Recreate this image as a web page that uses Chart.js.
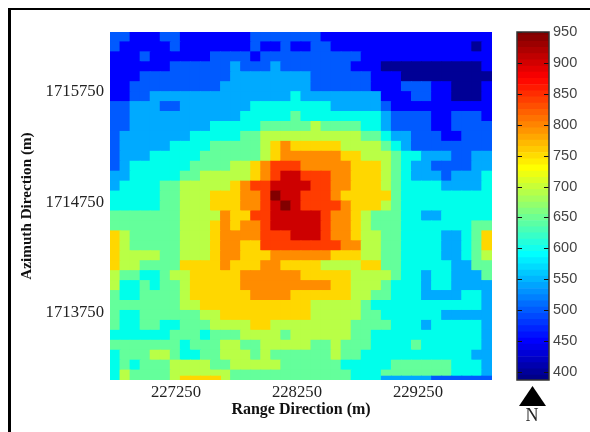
<!DOCTYPE html>
<html>
<head>
<meta charset="utf-8">
<title>Elevation map</title>
<script src="https://cdn.jsdelivr.net/npm/chart.js@4/dist/chart.umd.min.js"></script>
<style>
  html, body { margin: 0; padding: 0; background: #fff; overflow: hidden; }
  #page { position: relative; width: 590px; height: 432px; overflow: hidden; }
  #frame { position: absolute; left: 8px; top: 8px; width: 590px; height: 440px; border-left: 3px solid #000; border-top: 2px solid #000; }
  canvas { position: absolute; top: 0; }
  #map { left: 0; }
  #bar { left: 500px; }
  #arrow { position: absolute; left: 519px; top: 386px; width: 27px; height: 20px; background: #000; clip-path: polygon(50% 0, 100% 100%, 0 100%); }
  #north { position: absolute; left: 516px; top: 405px; width: 32px; text-align: center; font: 18px "Liberation Serif", serif; color: #222; }
</style>
</head>
<body>
<div id="page">
  <div id="frame"></div>
  <canvas id="map" width="590" height="432"></canvas>
  <canvas id="bar" width="90" height="400"></canvas>
  <div id="arrow"></div>
  <div id="north">N</div>
</div>
<script>
/* global Chart */

const xTicks = [227250, 228250, 229250];
const yTicks = [1713750, 1714750, 1715750];
const colorbarTicks = [400, 450, 500, 550, 600, 650, 700, 750, 800, 850, 900, 950];
const colorbarBreaks = [387, 395, 405, 415, 425, 435, 445, 455, 465, 475, 485, 495, 505, 515, 525, 535, 545, 555, 565, 575, 585, 595, 605, 615, 625, 635, 645, 655, 665, 675, 685, 695, 705, 715, 725, 735, 745, 755, 765, 775, 785, 795, 805, 815, 825, 835, 845, 855, 865, 875, 885, 895, 905, 915, 925, 935, 945, 950];

// contour level -> fill colour, as seen in the map
const contourLevels = [400, 450, 500, 550, 600, 650, 700, 750, 800, 850, 900, 950];
const contourColors = ['#000096', '#0000ff', '#005aff', '#00aaff', '#00ffeb', '#64ff9b', '#b9ff46', '#ffd700', '#ff8c00', '#ff3c00', '#cd0000', '#820000'];

// grid of the map, north to south, west to east
const row01 = [500,500,450,450,450,500,500,450,450,450,450,450,450,450,500,500,500,500,500,500,500,450,450,450,450,450,450,450,450,450,450,450,450,450,450,450,450,450];
const row02 = [500,450,450,450,450,450,500,450,450,450,450,450,450,450,500,450,450,500,450,450,500,500,450,450,450,450,450,450,450,450,450,450,450,450,450,450,400,450];
const row03 = [450,450,450,500,450,450,450,450,450,450,500,500,500,500,450,500,500,500,500,500,500,500,500,500,500,450,450,450,450,450,450,450,450,450,450,450,450,450];
const row04 = [450,450,450,450,450,450,500,500,500,500,500,500,550,500,500,500,550,500,500,500,500,500,500,500,450,450,450,400,400,400,400,400,400,400,400,400,400,450];
const row05 = [450,450,450,500,500,500,500,500,500,500,500,500,550,550,550,550,550,550,550,550,500,500,500,500,500,500,450,450,450,400,400,400,400,400,400,400,400,400];
const row06 = [450,450,500,500,500,500,500,500,500,500,500,550,550,550,550,550,550,550,550,550,500,500,500,500,500,500,450,450,450,500,500,500,450,450,400,400,400,450];
const row07 = [450,450,500,500,550,550,550,550,550,550,550,550,550,550,550,550,550,550,600,550,550,550,550,550,550,550,550,450,450,450,500,500,450,450,400,400,400,450];
const row08 = [500,500,550,550,550,500,500,550,550,550,550,550,550,550,600,600,600,600,600,600,600,600,550,550,550,550,550,500,450,450,450,450,450,450,450,450,450,450];
const row09 = [500,500,550,550,550,550,550,550,550,550,550,550,550,600,600,600,600,600,650,600,600,600,600,600,600,600,600,550,500,500,500,500,450,450,500,500,500,450];
const row10 = [500,500,550,550,550,550,550,550,550,550,600,600,600,600,600,650,650,650,650,650,700,650,650,650,650,600,600,550,500,500,500,500,450,450,500,500,500,500];
const row11 = [500,550,550,550,550,550,550,550,600,600,600,600,600,650,650,700,700,700,700,700,700,700,700,700,700,650,650,600,550,550,500,500,500,450,450,500,500,500];
const row12 = [500,550,550,550,550,550,600,600,600,600,650,650,650,650,650,700,750,800,750,750,750,750,750,700,700,700,700,650,600,550,500,500,500,500,500,500,500,500];
const row13 = [500,550,550,550,600,600,600,600,600,650,650,650,650,650,650,700,750,800,800,800,800,800,800,750,750,700,700,700,650,600,600,550,550,550,500,500,550,550];
const row14 = [500,550,600,600,600,600,600,600,650,650,650,650,700,700,750,800,850,850,850,800,800,800,800,800,750,750,750,700,650,600,550,550,500,500,500,500,550,550];
const row15 = [550,550,600,600,600,600,600,650,650,700,700,700,700,700,750,800,850,900,900,850,850,850,800,800,750,750,750,700,650,600,550,550,550,500,550,550,550,600];
const row16 = [550,600,600,600,600,650,650,700,700,700,700,700,750,800,850,850,900,900,900,900,850,850,800,800,750,750,750,700,650,600,600,600,600,550,550,550,550,600];
const row17 = [600,600,600,600,600,650,650,700,700,700,750,750,750,800,800,850,950,900,900,850,850,850,800,750,750,750,750,750,650,600,600,600,600,600,600,600,600,600];
const row18 = [600,600,600,600,600,650,650,700,700,700,750,750,750,800,800,850,900,950,900,850,850,850,850,800,750,750,750,700,650,600,600,600,600,600,600,600,600,600];
const row19 = [650,650,650,650,650,650,650,700,700,700,700,800,750,750,850,850,900,900,900,900,900,850,800,800,750,700,650,650,650,600,600,550,550,600,600,600,600,600];
const row20 = [650,650,650,650,650,650,650,700,700,700,750,800,750,800,800,850,900,900,900,900,900,850,800,800,750,700,650,650,650,600,600,600,600,600,600,600,650,650];
const row21 = [750,700,650,650,650,650,650,700,700,700,750,800,800,800,800,850,850,850,900,900,900,850,800,800,750,700,700,650,650,600,600,600,600,550,550,600,650,750];
const row22 = [750,700,650,650,650,650,650,700,700,700,750,800,800,750,750,850,850,850,850,850,850,850,850,800,800,700,700,650,650,600,600,600,600,550,550,600,650,750];
const row23 = [750,700,700,700,700,650,650,700,700,700,750,800,800,750,750,750,800,800,800,800,800,800,750,750,750,700,700,650,650,600,600,600,600,550,550,600,650,700];
const row24 = [750,700,700,650,650,650,650,750,750,750,750,800,750,750,750,800,800,750,750,750,750,700,700,700,700,750,750,650,650,600,600,600,600,600,550,550,650,650];
const row25 = [700,650,650,600,600,650,700,700,750,750,750,750,750,800,800,800,800,800,800,750,750,750,750,750,700,700,700,700,650,600,600,550,600,600,550,550,550,650];
const row26 = [700,600,600,650,600,650,650,700,750,750,750,750,750,800,800,800,800,800,800,800,800,800,750,750,700,700,700,650,600,600,600,550,600,600,550,550,550,550];
const row27 = [650,600,600,650,650,650,650,700,750,750,750,750,750,750,800,800,800,800,750,750,750,750,750,750,700,700,650,650,600,600,600,550,550,550,550,600,600,550];
const row28 = [650,650,650,650,650,650,650,700,700,750,750,750,750,750,750,750,750,750,750,750,700,700,700,700,700,650,600,600,600,600,600,600,600,600,600,600,600,550];
const row29 = [650,600,600,650,650,650,650,650,650,700,700,750,750,750,750,750,750,750,750,750,700,700,700,700,700,650,650,600,600,600,600,600,600,550,550,550,550,550];
const row30 = [650,600,600,650,650,600,600,650,650,650,700,700,700,700,750,750,700,700,700,700,700,700,700,700,650,650,650,650,600,600,600,550,600,600,600,600,600,550];
const row31 = [600,600,600,600,600,600,650,650,650,600,650,650,650,700,700,700,700,650,700,700,700,700,700,700,650,650,600,600,600,600,600,600,600,600,600,600,600,550];
const row32 = [650,650,650,650,650,650,650,600,650,650,650,700,700,650,650,700,700,700,700,700,650,650,700,650,650,650,600,600,600,600,650,600,600,600,600,600,600,550];
const row33 = [600,650,650,650,700,700,650,600,600,650,650,700,700,700,650,700,650,650,650,650,650,650,700,650,650,600,600,600,600,600,600,600,600,600,600,600,550,550];
const row34 = [600,650,600,650,650,650,700,700,700,700,650,650,700,700,700,700,700,650,650,650,650,650,650,600,600,600,600,600,650,650,650,650,650,650,600,600,600,550];
const row35 = [600,700,650,650,650,650,700,700,700,700,700,700,650,650,650,650,650,650,650,650,650,650,650,650,600,600,600,650,650,650,650,650,650,650,600,600,600,550];
// thin strip along the south edge, null where it does not show
const southEdge = [null,null,null,null,null,null,null,750,750,750,750,null,null,null,null,null,null,null,null,null,null,null,null,null,null,null,null,550,550,550,550,550,500,500,500,500,500,500];

const rows = [row01, row02, row03, row04, row05, row06, row07, row08, row09, row10, row11, row12, row13, row14, row15, row16, row17, row18, row19, row20, row21, row22, row23, row24, row25, row26, row27, row28, row29, row30, row31, row32, row33, row34, row35];

const xRange = [226705, 229862];
const yRange = [1713141, 1716290];
const eastFirst = 226746.5;
const eastStep = 83.06;
const northFirst = 1716245;
const northStep = 90;
const southEdgeNorth = 1713130;

const serifTick = { family: '"Liberation Serif", serif', size: 16.7 };

function levelColor(v) {
  return contourColors[contourLevels.indexOf(v)];
}

function jet(v) {
  const stops = [
    [387, 0, 0, 128], [450, 0, 0, 255], [590, 0, 255, 255],
    [730, 255, 255, 0], [875, 255, 0, 0], [950, 120, 0, 0]
  ];
  for (let i = 1; i < stops.length; i++) {
    if (v <= stops[i][0]) {
      const a = stops[i - 1];
      const b = stops[i];
      const t = (v - a[0]) / (b[0] - a[0]);
      const c = [1, 2, 3].map((k) => Math.round(a[k] + (b[k] - a[k]) * t));
      return `rgb(${c.join(',')})`;
    }
  }
  return 'rgb(120,0,0)';
}

function buildCells() {
  const cells = [];
  rows.forEach((row, r) => {
    row.forEach((v, c) => {
      cells.push({ x: eastFirst + c * eastStep, y: northFirst - r * northStep, v });
    });
  });
  southEdge.forEach((v, c) => {
    if (v !== null) cells.push({ x: eastFirst + c * eastStep, y: southEdgeNorth, v });
  });
  return cells;
}

const cells = buildCells();

new Chart(document.getElementById('map'), {
  type: 'scatter',
  data: {
    datasets: [
      {
        data: cells,
        pointStyle: 'rect',
        pointRadius: 7.8,
        pointHoverRadius: 7.8,
        pointBorderWidth: 0,
        pointBackgroundColor: cells.map((p) => levelColor(p.v)),
        clip: 0
      }
    ]
  },
  options: {
    responsive: false,
    animation: false,
    events: [],
    layout: { padding: { top: 32, right: 98, bottom: 0, left: 0 } },
    plugins: { legend: { display: false }, tooltip: { enabled: false } },
    scales: {
      x: {
        type: 'linear',
        min: xRange[0],
        max: xRange[1],
        grid: { display: false, drawTicks: false },
        border: { display: false },
        afterFit: (s) => { s.height = 52; },
        afterBuildTicks: (s) => { s.ticks = xTicks.map((value) => ({ value })); },
        ticks: { color: '#222', font: serifTick, padding: 3, maxRotation: 0, callback: (v) => String(v) },
        title: { display: true, text: 'Range Direction (m)', color: '#111', font: { family: '"Liberation Serif", serif', size: 16, weight: 'bold' }, padding: { top: 0, bottom: 13 } }
      },
      y: {
        type: 'linear',
        min: yRange[0],
        max: yRange[1],
        grid: { display: false, drawTicks: false },
        border: { display: false },
        afterFit: (s) => { s.width = 110; },
        afterBuildTicks: (s) => { s.ticks = yTicks.map((value) => ({ value })); },
        ticks: { color: '#222', font: serifTick, padding: 6, callback: (v) => String(v) },
        title: { display: true, text: 'Azimuth Direction (m)', color: '#111', font: { family: '"Liberation Serif", serif', size: 15.2, weight: 'bold' }, padding: { top: 18, bottom: 0 } }
      }
    }
  }
});

const barFrame = {
  id: 'barFrame',
  afterDatasetsDraw(chart) {
    const { ctx, chartArea: a, scales } = chart;
    ctx.save();
    ctx.strokeStyle = '#111';
    ctx.lineWidth = 1;
    colorbarTicks.forEach((v) => {
      const y = Math.round(scales.y.getPixelForValue(v)) + 0.5;
      ctx.beginPath();
      ctx.moveTo(a.left, y);
      ctx.lineTo(a.left + 5, y);
      ctx.moveTo(a.right - 5, y);
      ctx.lineTo(a.right, y);
      ctx.stroke();
    });
    ctx.strokeStyle = '#333';
    ctx.lineWidth = 1.5;
    ctx.strokeRect(a.left, a.top, a.right - a.left, a.bottom - a.top);
    ctx.restore();
  }
};

new Chart(document.getElementById('bar'), {
  type: 'bar',
  data: {
    labels: [''],
    datasets: colorbarBreaks.slice(0, -1).map((lo, i) => ({
      data: [[lo, colorbarBreaks[i + 1]]],
      backgroundColor: jet((lo + colorbarBreaks[i + 1]) / 2),
      borderWidth: 0,
      grouped: false,
      barPercentage: 1,
      categoryPercentage: 1
    }))
  },
  plugins: [barFrame],
  options: {
    responsive: false,
    animation: false,
    events: [],
    layout: { padding: { top: 32, right: 0, bottom: 20, left: 17 } },
    plugins: { legend: { display: false }, tooltip: { enabled: false } },
    scales: {
      x: { display: false },
      y: {
        position: 'right',
        min: 387,
        max: 950,
        grid: { display: false, drawTicks: false },
        border: { display: false },
        afterFit: (s) => { s.width = 41; },
        afterBuildTicks: (s) => { s.ticks = colorbarTicks.map((value) => ({ value })); },
        ticks: { color: '#444', font: { family: '"Liberation Sans", sans-serif', size: 14.5 }, padding: 4, autoSkip: false }
      }
    }
  }
});
</script>
</body>
</html>
